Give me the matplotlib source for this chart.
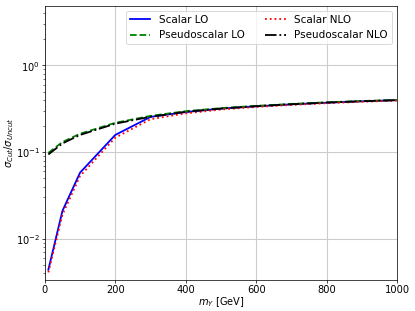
import matplotlib
matplotlib.use("Agg")
import matplotlib.pyplot as plt

# masses [GeV]
mass = [10, 50, 100, 200, 300, 400, 500, 600, 700, 800, 900, 1000]

# sigma_cut / sigma_uncut
scalar_lo = [0.0044, 0.021, 0.058, 0.158, 0.255, 0.290, 0.318, 0.338, 0.356, 0.372, 0.386, 0.398]
scalar_nlo = [0.0041, 0.019, 0.053, 0.147, 0.240, 0.280, 0.310, 0.332, 0.350, 0.367, 0.381, 0.393]
pseudo_lo = [0.098, 0.131, 0.163, 0.218, 0.262, 0.297, 0.322, 0.342, 0.360, 0.376, 0.389, 0.400]
pseudo_nlo = [0.094, 0.126, 0.158, 0.213, 0.256, 0.292, 0.318, 0.339, 0.357, 0.373, 0.387, 0.398]

plt.rcParams["font.size"] = 11.5

fig, ax = plt.subplots(figsize=(6.4, 4.8), dpi=64.85)
ax.plot(mass, scalar_lo, "b-", lw=2, label="Scalar LO")
ax.plot(mass, pseudo_lo, "g--", lw=2, label="Pseudoscalar LO")
ax.plot(mass, scalar_nlo, "r:", lw=2, label="Scalar NLO")
ax.plot(mass, pseudo_nlo, "k-.", lw=2, label="Pseudoscalar NLO")

ax.set_yscale("log")
ax.set_xlim(0, 1000)
ax.set_ylim(3.36e-3, 4.9)
ax.grid(True, which="major", color="#cccccc", lw=1.2)
ax.tick_params(labelsize=11, pad=2)
ax.set_xlabel(r"$m_Y$ [GeV]", fontsize=11, labelpad=0)
ax.set_ylabel(r"$\sigma_{Cut}/\sigma_{Uncut}$", fontsize=11, labelpad=0)
ax.legend(ncol=2, loc="upper right")

fig.subplots_adjust(left=0.108, right=0.957, top=0.981, bottom=0.1)
fig.savefig("out.png", dpi=64.85)
